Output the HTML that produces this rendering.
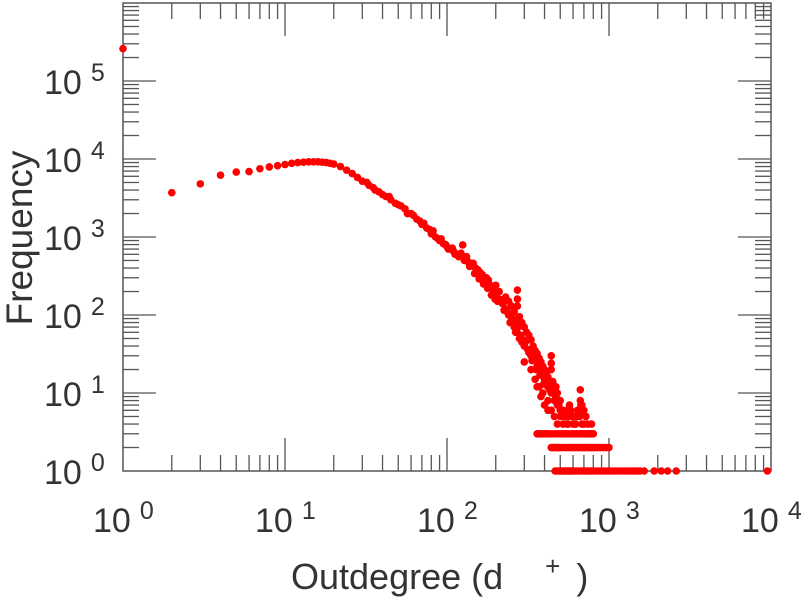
<!DOCTYPE html>
<html><head><meta charset="utf-8"><style>
body{margin:0;background:#fff}
svg{display:block;font-family:"Liberation Sans",sans-serif}
</style></head><body>
<svg id="c" width="805" height="600"></svg>
<script>
const xTickExps=[0,1,2,3,4];
const yTickExps=[0,1,2,3,4,5];
const mainX=[1,2,3,4,5,6,7,8,9,10,11,12,13,14,15,16,17,18,19,20,22,24,26,28,30,33,36,40,45,50,55,60,65,70,75,80,85,90,95,100,105,110,115,120,125,130,135,140,150,160,170,180,190,200,210,220,230,240,250,260,270,280,290,300,320,340,360,380,400,420,440,460,480,500];
const mainY=[260000,3700,4800,6200,6800,6900,7500,7900,8200,8500,8800,9000,9100,9200,9200,9200,9100,9000,8800,8600,8000,7200,6500,5800,5200,4600,4000,3500,3000,2600,2300,2000,1700,1450,1300,1100,1000,900,820,750,700,650,600,580,790,520,480,450,400,350,300,260,220,190,160,140,120,100,85,70,60,50,45,40,33,28,22,18,15,12,10,8,7,6];
const bandX=[32,35,38,42,44,48,52,57,62,68,72,78,82,88,92,98,102,108,112,118,122,128,132,138,145,148,155,158,165,168,175,178,185,188,195,198,205,215,225,235,245,255,265,275,285,295,305,315,325,335,345,355,365,375,385,395,410,430,450,470,490,510];
const bandY=[5000,4300,3800,3300,3300,2700,2500,2000,1900,1600,1500,1250,1200,950,950,800,700,720,600,560,620,500,560,420,460,340,380,290,330,250,300,220,240,180,210,160,150,150,115,110,80,90,60,70,55,48,45,36,35,26,30,20,24,17,20,13,14,11,10,9,8,6];
const scatX=[180,200,210,230,240,250,260,272,272,272,272,280,290,300,310,320,330,340,350,360,370,380,390,400,410,420,440,440,440,440,440,450,470,480,500,520,540,560,580,600,620,640,660,680,700,360,380,400,420,460,480,520,560,600,640,665,665,665,700,740,780,300,330,350,370,390,420,500,550,620,680,330,350,380,410,430,455,470,490,510,530,550,570,590,610,630,650,670,690,720];
const scatY=[280,240,200,170,150,130,110,209,160,130,81,95,80,70,60,55,48,40,35,32,28,25,22,20,18,16,30,24,20,12,6,14,12,10,8,6,5,5,6,5,4,6,5,7,4,12,9,7,6,5,4,4,4,4,5,11,8,6,6,4,4,25,20,15,12,10,8,5,4,4,4,30,28,22,16,14,10,9,7,6,5,6,7,5,5,5,6,7,6,5];
const row3X=[360,370,380,390,400,410,420,440,460,480,500,520,540,560,580,600,620,640,660,680,700,720,740,760,780,800];
const row2X=[440,450,460,470,480,490,500,520,540,560,580,600,620,640,660,680,700,720,740,760,780,800,820,850,880,920,960,1000];
const row1X=[465,475,490,500,510,520,530,540,550,560,570,580,590,600,620,640,660,680,700,720,740,760,780,800,830,860,900,940,980,1020,1060,1100,1150,1200,1250,1300,1350,1400,1450,1500,1550,1650,1900,2100,2300,2600,9500];

const NS="http://www.w3.org/2000/svg";
const svg=document.getElementById('c');
const L=123,R=771,T=3,B=471;
const xs=v=>L+(Math.log10(v))*(R-L)/4;
const ys=v=>B-(Math.log10(v))*(B-T)/6;
function mk(t,a,p){const e=document.createElementNS(NS,t);for(const k in a)e.setAttribute(k,a[k]);(p||svg).appendChild(e);return e;}
const ax=mk('g',{});


const frame=mk('rect',{x:L,y:T,width:R-L,height:B-T,fill:'none',stroke:'#555','stroke-width':1.5},ax);


const tc='#555';
for(let e=0;e<4;e++){for(let m=1;m<10;m++){const x=xs(m*Math.pow(10,e));const len=m===1?33:16;
 if(m===1&&e===0)continue;
 mk('line',{x1:x,x2:x,y1:B,y2:B-len,stroke:tc,'stroke-width':1.3},ax);
 mk('line',{x1:x,x2:x,y1:T,y2:T+len,stroke:tc,'stroke-width':1.3},ax);}}
for(let e=0;e<6;e++){for(let m=1;m<10;m++){const y=ys(m*Math.pow(10,e));const len=m===1?33:16;
 if(m===1&&e===0)continue;
 mk('line',{x1:L,x2:L+len,y1:y,y2:y,stroke:tc,'stroke-width':1.3},ax);
 mk('line',{x1:R,x2:R-len,y1:y,y2:y,stroke:tc,'stroke-width':1.3},ax);}}
xTickExps.forEach(e=>{const t=mk('text',{x:xs(Math.pow(10,e))-30,y:532,'font-size':34,fill:'#333'},ax);
 
 
 t.textContent='10';const s=mk('tspan',{dx:9,dy:-13,'font-size':25},t);s.textContent=e;});
yTickExps.forEach(e=>{const t=mk('text',{x:44,y:ys(Math.pow(10,e))+13,'font-size':34,fill:'#333'},ax);
 
 
 t.textContent='10';const s=mk('tspan',{dx:9,dy:-13,'font-size':25},t);s.textContent=e;});
const xt=mk('text',{x:291,y:589,'font-size':36,fill:'#333'});


xt.textContent='Outdegree (d';const sp=mk('tspan',{dx:42,dy:-14,'font-size':26},xt);sp.textContent='+';
const sp2=mk('tspan',{dx:16,dy:14},xt);sp2.textContent=')';
const yt=mk('text',{x:0,y:0,'font-size':37,fill:'#333','text-anchor':'middle',transform:'translate(32,238) rotate(-90)'});


yt.textContent='Frequency';
const pts=mk('g',{fill:'#ff0000'});


function dot(x,y){const c=mk('circle',{cx:xs(x),cy:ys(y),r:3.8},pts);
 
 }
mainX.forEach((x,i)=>dot(x,mainY[i]));
bandX.forEach((x,i)=>dot(x,bandY[i]));
scatX.forEach((x,i)=>dot(x,scatY[i]));
row3X.forEach(x=>dot(x,3));
row2X.forEach(x=>dot(x,2));
row1X.forEach(x=>dot(x,1));
</script>
</body></html>
